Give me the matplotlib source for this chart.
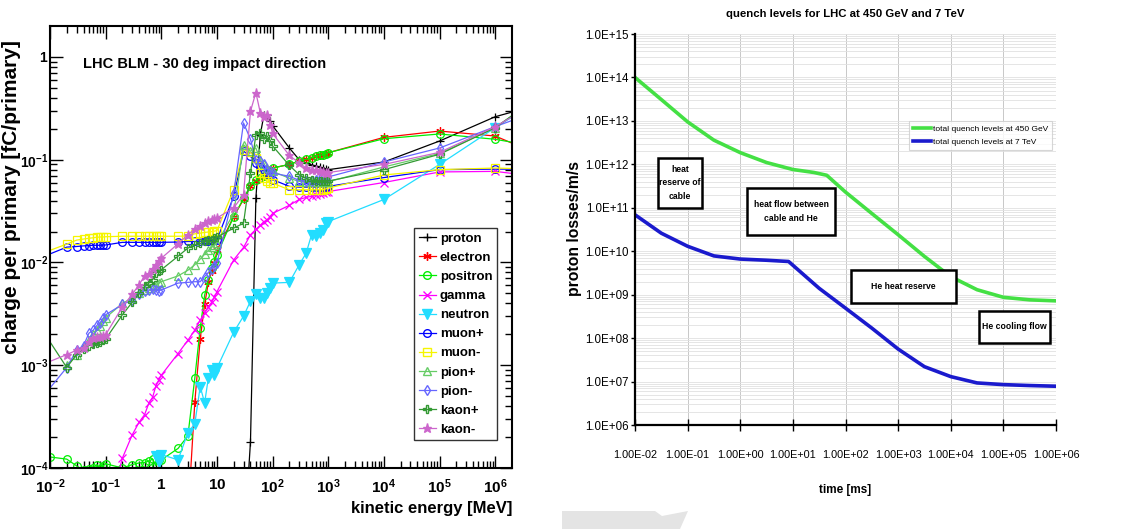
import numpy as np
import matplotlib
matplotlib.use('Agg')
import matplotlib.pyplot as plt
import matplotlib.patches as mpatches
from matplotlib.lines import Line2D
from matplotlib.ticker import FuncFormatter, FixedLocator, NullFormatter

FONTS = ['Liberation Sans', 'DejaVu Sans']
plt.rcParams['font.family'] = FONTS
plt.rcParams['mathtext.fontset'] = 'custom'
plt.rcParams['mathtext.rm'] = 'Liberation Sans'
plt.rcParams['mathtext.bf'] = 'Liberation Sans:bold'

nan = np.nan

# ---------------- left panel data: charge per primary vs kinetic energy [MeV]
energy = [0.005, 0.01,
          0.02, 0.03, 0.04, 0.05, 0.06, 0.07, 0.08, 0.09, 0.1,
          0.2, 0.3, 0.4, 0.5, 0.6, 0.7, 0.8, 0.9, 1,
          2, 3, 4, 5, 6, 7, 8, 9, 10,
          20, 30, 40, 50, 60, 70, 80, 90, 100,
          200, 300, 400, 500, 600, 700, 800, 900, 1000,
          1e4, 1e5, 1e6, 1e7]

proton = [nan, nan,
          nan, nan, nan, nan, nan, nan, nan, nan, nan,
          nan, nan, nan, nan, nan, nan, nan, nan, nan,
          nan, nan, nan, nan, nan, nan, nan, nan, nan,
          nan, 1.5e-5, 1.8e-4, 0.042, 0.175, 0.275, 0.27, 0.24, 0.214,
          0.13, 0.10, 0.093, 0.089, 0.087, 0.085, 0.083, 0.081, 0.080,
          0.095, 0.152, 0.262, 0.37]
electron = [nan, nan,
            nan, nan, nan, nan, nan, nan, nan, nan, nan,
            nan, nan, nan, nan, nan, nan, nan, nan, nan,
            nan, 3.3e-5, 4.4e-4, 1.8e-3, 3.9e-3, 6.4e-3, 8.2e-3, 9.9e-3, 0.0131,
            0.028, 0.041, 0.055, 0.062, 0.066, 0.069, 0.072, 0.078, 0.083,
            0.09, 0.097, 0.101, 0.105, 0.108, 0.11, 0.112, 0.114, 0.117,
            0.165, 0.19, 0.17, 0.10]
positron = [nan, 1.28e-4,
            1.22e-4, 1.05e-4, 9.5e-5, 9.8e-5, 1.0e-4, 1.08e-4, 9.7e-5, 1.05e-4, 1.1e-4,
            1.0e-4, 1.08e-4, 1.12e-4, 1.13e-4, 1.17e-4, 1.22e-4, 1.05e-4, 1.2e-4, 1.2e-4,
            1.55e-4, 2.05e-4, 7.5e-4, 2.3e-3, 4.8e-3, 6.8e-3, 8.9e-3, 1.02e-2, 1.19e-2,
            0.028, 0.042, 0.056, 0.063, 0.067, 0.07, 0.073, 0.078, 0.083,
            0.09, 0.097, 0.101, 0.105, 0.108, 0.11, 0.112, 0.114, 0.117,
            0.16, 0.178, 0.158, 0.127]
gamma = [nan, nan,
         nan, nan, nan, nan, nan, nan, nan, nan, 3e-5,
         1.25e-4, 2.1e-4, 2.8e-4, 3.3e-4, 4.3e-4, 4.9e-4, 6.3e-4, 7.2e-4, 8.0e-4,
         1.3e-3, 1.75e-3, 2.2e-3, 2.75e-3, 3.2e-3, 3.7e-3, 4.1e-3, 4.6e-3, 5.2e-3,
         0.0106, 0.014, 0.0186, 0.021, 0.023, 0.025, 0.026, 0.028, 0.030,
         0.036, 0.041, 0.043, 0.044, 0.045, 0.046, 0.047, 0.048, 0.049,
         0.06, 0.076, 0.077, 0.066]
neutron = [nan, nan,
           nan, nan, nan, nan, nan, nan, nan, nan, nan,
           nan, nan, nan, nan, nan, nan, 1.3e-4, 1.15e-4, 1.35e-4,
           1.2e-4, 2.2e-4, 2.7e-4, 6.2e-4, 4.3e-4, 7.5e-4, 9.0e-4, 8.1e-4, 9.4e-4,
           2.1e-3, 3.0e-3, 4.2e-3, 4.9e-3, 4.5e-3, 4.5e-3, 5.0e-3, 5.6e-3, 6.3e-3,
           6.4e-3, 9.5e-3, 0.0123, 0.0186, 0.018, 0.0194, 0.0208, 0.024, 0.025,
           0.041, 0.09, 0.205, 0.45]
muon_p = [0.0104, nan,
          0.0141, 0.0143, 0.0145, 0.0146, 0.0147, 0.0147, 0.0147, 0.0148, 0.0148,
          0.0157, 0.0157, 0.0157, 0.0157, 0.0157, 0.0157, 0.0157, 0.0157, 0.0157,
          0.0158, 0.016, 0.016, 0.0161, 0.0162, 0.0163, 0.0164, 0.0165, 0.0166,
          0.044, 0.121, 0.108, 0.093, 0.084, 0.079, 0.074, 0.069, 0.064,
          0.055, 0.054, 0.054, 0.054, 0.054, 0.054, 0.054, 0.054, 0.055,
          0.067, 0.08, 0.081, 0.081]
muon_m = [0.0114, nan,
          0.0151, 0.0165, 0.0169, 0.0172, 0.0174, 0.0176, 0.0177, 0.0177, 0.0178,
          0.018, 0.018, 0.018, 0.018, 0.018, 0.018, 0.018, 0.018, 0.018,
          0.018, 0.0181, 0.019, 0.0193, 0.0196, 0.0198, 0.02, 0.0202, 0.0204,
          0.0512, 0.125, 0.118, 0.104, 0.074, 0.066, 0.062, 0.06, 0.059,
          0.051, 0.051, 0.051, 0.051, 0.051, 0.051, 0.051, 0.052, 0.053,
          0.071, 0.08, 0.083, 0.08]
pion_p = [nan, nan,
          1.0e-3, 1.25e-3, 1.5e-3, 1.75e-3, 2.0e-3, 2.2e-3, 2.4e-3, 2.7e-3, 2.9e-3,
          4.0e-3, 4.5e-3, 5.0e-3, 5.4e-3, 5.7e-3, 5.9e-3, 6.1e-3, 6.3e-3, 6.5e-3,
          7.4e-3, 8.4e-3, 9.5e-3, 0.0108, 0.012, 0.0131, 0.014, 0.0148, 0.0155,
          0.030, 0.14, 0.121, 0.13, 0.10, 0.09, 0.083, 0.08, 0.077,
          0.066, 0.0615, 0.061, 0.061, 0.061, 0.061, 0.061, 0.061, 0.061,
          0.085, 0.115, 0.205, 0.5]
pion_m = [3.8e-4, nan,
          9.5e-4, 1.4e-3, 1.55e-3, 2.05e-3, 2.2e-3, 2.45e-3, 2.6e-3, 2.85e-3, 3.1e-3,
          3.9e-3, 4.3e-3, 4.9e-3, 5.3e-3, 5.4e-3, 5.5e-3, 5.4e-3, 5.3e-3, 5.4e-3,
          6.3e-3, 6.4e-3, 6.5e-3, 6.5e-3, 7.3e-3, 8.0e-3, 8.7e-3, 9.3e-3, 9.9e-3,
          0.047, 0.228, 0.158, 0.10, 0.097, 0.09, 0.08, 0.077, 0.074,
          0.069, 0.063, 0.062, 0.062, 0.064, 0.065, 0.066, 0.067, 0.068,
          0.095, 0.13, 0.21, 0.33]
kaon_p = [3.0e-3, nan,
          9.5e-4, 1.27e-3, 1.45e-3, 1.55e-3, 1.62e-3, 1.65e-3, 1.7e-3, 1.75e-3, 1.8e-3,
          3.1e-3, 4.1e-3, 5.0e-3, 5.85e-3, 6.3e-3, 6.8e-3, 7.9e-3, 8.2e-3, 8.5e-3,
          0.0115, 0.0138, 0.0148, 0.0153, 0.016, 0.0164, 0.0167, 0.0172, 0.0177,
          0.0216, 0.0241, 0.074, 0.175, 0.18, 0.158, 0.17, 0.155, 0.136,
          0.088, 0.0715, 0.066, 0.063, 0.0615, 0.0615, 0.0615, 0.0615, 0.062,
          0.08, 0.113, 0.205, 0.5]
kaon_m = [9.35e-4, nan,
          1.27e-3, 1.4e-3, 1.47e-3, 1.7e-3, 1.84e-3, 1.87e-3, 1.9e-3, 1.94e-3, 1.98e-3,
          3.7e-3, 4.9e-3, 6.1e-3, 7.4e-3, 7.8e-3, 8.6e-3, 9.5e-3, 0.0103, 0.011,
          0.0152, 0.0186, 0.0211, 0.0225, 0.024, 0.0251, 0.026, 0.0265, 0.0271,
          0.034, 0.0458, 0.296, 0.45, 0.287, 0.26, 0.27, 0.22, 0.18,
          0.11, 0.093, 0.083, 0.08, 0.079, 0.078, 0.076, 0.075, 0.075,
          0.09, 0.118, 0.21, 0.43]

labels = ['proton', 'electron', 'positron', 'gamma', 'neutron', 'muon+',
          'muon-', 'pion+', 'pion-', 'kaon+', 'kaon-']
series = [proton, electron, positron, gamma, neutron, muon_p,
          muon_m, pion_p, pion_m, kaon_p, kaon_m]

# ---------------- right panel data: quench levels
time_ms = [0.01, 0.0316, 0.1, 0.316, 1, 3.16, 10, 25, 44, 100, 316, 1000,
           3160, 1e4, 3.16e4, 1e5, 3.16e5, 1e6]
q450 = [1.0e14, 3.1e13, 9.5e12, 3.6e12, 1.86e12, 1.1e12, 7.6e11, 6.5e11, 5.6e11,
        2.3e11, 7.4e10, 2.4e10, 7.6e9, 2.6e9, 1.3e9, 8.7e8, 7.6e8, 7.2e8]
time7 = [0.01, 0.0316, 0.1, 0.316, 1, 3.16, 8.3, 31.6, 100, 316, 1000,
         3160, 1e4, 3.16e4, 1e5, 3.16e5, 1e6]
q7 = [6.9e10, 2.6e10, 1.3e10, 7.8e9, 6.6e9, 6.2e9, 5.8e9, 1.4e9, 4.9e8, 1.7e8,
      5.6e7, 2.2e7, 1.3e7, 9.3e6, 8.5e6, 8.1e6, 7.8e6]

# tick positions
e_ticks = [1e-2, 1e-1, 1, 10, 1e2, 1e3, 1e4, 1e5, 1e6]
c_ticks = [1e-4, 1e-3, 1e-2, 1e-1, 1]
t_ticks = [1e-2, 1e-1, 1, 10, 1e2, 1e3, 1e4, 1e5, 1e6]
p_ticks = [1e6, 1e7, 1e8, 1e9, 1e10, 1e11, 1e12, 1e13, 1e14, 1e15]


def minor_of(ticks, lo, hi):
    out = []
    for t in ticks + [ticks[-1] * 10]:
        for k in range(2, 10):
            if lo < k * t < hi:
                out.append(k * t)
    return out


# ---------------- styles (colour, marker, fill, size)
styles = [('black', '+', 'full', 6), ('#ff0000', (6, 2, 0), 'full', 6),
          ('#00ee00', 'o', 'none', 5.5), ('#ff00ff', 'x', 'full', 5.5),
          ('#22ddff', 'v', 'full', 6.5), ('#0000ff', 'o', 'none', 5.5),
          ('#f5f500', 's', 'none', 5.5), ('#66cc66', '^', 'none', 5.5),
          ('#6666ff', 'd', 'none', 5.5), ('#339933', 'P', 'none', 6),
          ('#cc66cc', '*', 'full', 6.5)]

fig = plt.figure(figsize=(11.27, 5.29), dpi=100)

# ================= left panel
ax1 = fig.add_axes([50/1127, 1-468/529, 462/1127, 442/529])
E = np.array(energy)
handles = []
for vals, lab, (c, m, fs, ms) in zip(series, labels, styles):
    v = np.array(vals)
    ok = ~np.isnan(v)
    ax1.plot(E[ok], v[ok], color=c, lw=0.9, marker=m, fillstyle=fs,
             markersize=ms, markeredgewidth=0.9)
    handles.append(Line2D([], [], color=c, lw=0.9, marker=m, fillstyle=fs,
                          markersize=ms, markeredgewidth=1.0, label=lab))

ax1.set_xscale('log')
ax1.set_yscale('log')
ax1.set_xlim(1e-2, 2e6)
ax1.set_ylim(1e-4, 2)


def root_fmt(x, pos):
    e = int(round(np.log10(x)))
    if e == 0:
        return r'$\mathbf{1}$'
    if e == 1:
        return r'$\mathbf{10}$'
    return r'$\mathbf{10^{%d}}$' % e


ax1.xaxis.set_major_locator(FixedLocator(e_ticks))
ax1.yaxis.set_major_locator(FixedLocator(c_ticks))
ax1.xaxis.set_minor_locator(FixedLocator(minor_of(e_ticks, 1e-2, 2e6)))
ax1.yaxis.set_minor_locator(FixedLocator(minor_of(c_ticks, 1e-4, 2)))
ax1.xaxis.set_major_formatter(FuncFormatter(root_fmt))
ax1.yaxis.set_major_formatter(FuncFormatter(root_fmt))
ax1.xaxis.set_minor_formatter(NullFormatter())
ax1.yaxis.set_minor_formatter(NullFormatter())
ax1.tick_params(axis='both', which='both', direction='in', top=True, right=True,
                labelsize=11, width=1)
ax1.tick_params(axis='y', labelsize=10, pad=1)
ax1.tick_params(which='major', length=9)
ax1.tick_params(which='minor', length=5)
ax1.tick_params(axis='x', pad=7)
for s in ax1.spines.values():
    s.set_linewidth(1.5)

ax1.text(0.072, 0.915, 'LHC BLM - 30 deg impact direction', transform=ax1.transAxes,
         fontsize=10.5, fontweight='bold', ha='left', va='center')

leg = ax1.legend(handles=handles, loc='upper left', bbox_to_anchor=(0.788, 0.543),
                 borderaxespad=0, frameon=True, fancybox=False, edgecolor='black',
                 prop={'weight': 'bold', 'size': 9.5},
                 handlelength=1.3, handletextpad=0.3, labelspacing=0.52,
                 borderpad=0.35)
leg.get_frame().set_linewidth(1.0)

fig.text(12/1127, 1-197/529, 'charge per primary [fC/primary]', rotation=90,
         ha='center', va='center', fontsize=15, fontweight='bold')
fig.text(512/1127, 1-508/529, 'kinetic energy [MeV]', ha='right', va='center',
         fontsize=12, fontweight='bold')

# ================= right panel
ax2 = fig.add_axes([635/1127, 1-425/529, 421/1127, 391/529])
ax2.plot(time_ms, q450, color='#44e044', lw=2.6, label='total quench levels at 450 GeV',
         solid_joinstyle='round')
ax2.plot(time7, q7, color='#1a1acd', lw=2.6, label='total quench levels at 7 TeV',
         solid_joinstyle='round')
ax2.set_xscale('log')
ax2.set_yscale('log')
ax2.set_xlim(1e-2, 1e6)
ax2.set_ylim(1e6, 1e15)
ax2.xaxis.set_major_locator(FixedLocator(t_ticks))
ax2.yaxis.set_major_locator(FixedLocator(p_ticks))
ax2.yaxis.set_minor_locator(FixedLocator(minor_of(p_ticks[:-1], 1e6, 1e15)))
ax2.xaxis.set_minor_locator(FixedLocator([]))
ax2.xaxis.set_major_formatter(FuncFormatter(lambda x, p: '%.2E' % x))
ax2.yaxis.set_major_formatter(FuncFormatter(lambda x, p: '%.1E' % x))
ax2.yaxis.set_minor_formatter(NullFormatter())
ax2.grid(which='major', axis='x', color='#c8c8c8', lw=0.7)
ax2.grid(which='both', axis='y', color='#e0e0e0', lw=0.6)
ax2.tick_params(axis='y', which='major', direction='out', length=3, width=1,
                labelsize=8.3, pad=1.5)
ax2.tick_params(axis='y', which='minor', length=0)
ax2.tick_params(axis='x', which='major', direction='inout', length=8, width=1,
                labelsize=7.8, pad=14)
for side in ['top', 'right']:
    ax2.spines[side].set_visible(False)
for side in ['left', 'bottom']:
    ax2.spines[side].set_linewidth(1.6)

ax2.set_title('quench levels for LHC at 450 GeV and 7 TeV', fontsize=8.2,
              fontweight='bold', pad=12)
ax2.set_xlabel('time [ms]', fontsize=8.5, fontweight='bold', labelpad=17)
fig.text(575/1127, 1-229/529, 'proton losses/m/s', rotation=90, ha='center',
         va='center', fontsize=11.3, fontweight='bold')

leg2 = ax2.legend(loc='upper left', bbox_to_anchor=(0.651, 0.7775), borderaxespad=0,
                  fancybox=False, edgecolor='#cccccc', fontsize=6,
                  handlelength=2.2, handletextpad=0.2, labelspacing=0.7,
                  borderpad=0.45)
leg2.get_frame().set_linewidth(0.8)

# annotation boxes (axes fractions: x0, x1, y0, y1)
boxes = [((0.0546, 0.159, 0.555, 0.683), 'heat\nreserve of\ncable'),
         ((0.266, 0.475, 0.486, 0.606), 'heat flow between\ncable and He'),
         ((0.513, 0.762, 0.312, 0.396), 'He heat reserve'),
         ((0.817, 0.986, 0.210, 0.292), 'He cooling flow')]
for (x0, x1, y0, y1), txt in boxes:
    ax2.add_patch(mpatches.Rectangle((x0, y0), x1 - x0, y1 - y0, transform=ax2.transAxes,
                                     facecolor='white', edgecolor='black', lw=1.8,
                                     zorder=5, clip_on=False))
    ax2.text((x0 + x1) / 2, (y0 + y1) / 2, txt, transform=ax2.transAxes, ha='center',
             va='center', fontsize=6.2, fontweight='bold', linespacing=1.7, zorder=6)

# grey slide decoration at the bottom
poly = [(562, 511), (655, 511), (662, 516), (688, 511), (680, 529), (562, 529)]
fig.patches.append(mpatches.Polygon([(x/1127, 1 - y/529) for x, y in poly], closed=True,
                                    transform=fig.transFigure, facecolor='#e4e4e4',
                                    edgecolor='none', zorder=0))

fig.savefig('out.png', dpi=100)
